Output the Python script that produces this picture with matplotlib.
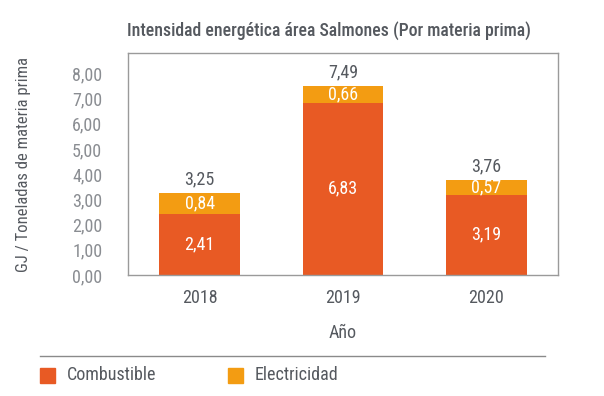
import numpy as np
import matplotlib.pyplot as plt
from matplotlib.patches import Rectangle
from matplotlib.lines import Line2D

years = ['2018', '2019', '2020']
combustible = [2.41, 6.83, 3.19]
electricidad = [0.84, 0.66, 0.57]
totales = [3.25, 7.49, 3.76]
yticks = [0, 1, 2, 3, 4, 5, 6, 7, 8]

c_comb = '#E85A24'
c_elec = '#F39C12'
grey_dark = '#55595f'
grey_light = '#8a8d92'
plt.rcParams['font.family'] = ['Roboto Condensed', 'Roboto', 'DejaVu Sans']
plt.rcParams['font.stretch'] = 'condensed'
fs = 13

def fmt(v):
    return f'{v:.2f}'.replace('.', ',')

fig = plt.figure(figsize=(6.04, 3.96), dpi=100)
W, H = 604, 396
ax = fig.add_axes([128 / W, 1 - 275 / H, (558 - 128) / W, (275 - 53) / H])

x = np.arange(len(years))
bw = 0.565
ax.bar(x, combustible, bw, color=c_comb, label='Combustible')
ax.bar(x, electricidad, bw, bottom=combustible, color=c_elec, label='Electricidad')

for i in range(len(years)):
    ax.text(x[i], combustible[i] / 2, fmt(combustible[i]), ha='center', va='center',
            color='white', fontsize=fs)
    ax.text(x[i], combustible[i] + electricidad[i] / 2, fmt(electricidad[i]), ha='center',
            va='center', color='white', fontsize=fs)
    ax.text(x[i], totales[i] + 0.2, fmt(totales[i]), ha='center', va='bottom',
            color=grey_dark, fontsize=fs)

ax.set_xlim(-0.5, 2.5)
ax.set_ylim(0, 8.8)
ax.set_yticks(yticks)
ax.set_yticklabels([fmt(v) for v in yticks])
ax.set_xticks(x)
ax.set_xticklabels(years)
ax.tick_params(axis='y', length=0, pad=18.5, labelsize=fs, labelcolor=grey_light)
ax.tick_params(axis='x', length=0, pad=10, labelsize=fs, labelcolor=grey_dark)
for s in ax.spines.values():
    s.set_color('#9a9a9a')
    s.set_linewidth(1)

ax.set_xlabel('Año', fontsize=fs, color=grey_dark, labelpad=12)
fig.text(24 / W, 1 - 165 / H, 'GJ / Toneladas de materia prima', rotation=90,
         ha='center', va='center', fontsize=12, color=grey_dark)
fig.text(329 / W, 1 - 31 / H, 'Intensidad energética área Salmones (Por materia prima)',
         ha='center', va='center', fontsize=12.8, color=grey_dark, fontweight='medium')

# legend below with separator line
fig.add_artist(Line2D([40 / W, 545 / W], [1 - 356 / H, 1 - 356 / H],
                      color='#8a8a8a', lw=1, transform=fig.transFigure))
for lx, col, lab in [(40, c_comb, 'Combustible'), (228, c_elec, 'Electricidad')]:
    fig.add_artist(Rectangle((lx / W, 1 - 383 / H), 15 / W, 15 / H, color=col,
                             transform=fig.transFigure))
    fig.text((lx + 27) / W, 1 - 375 / H, lab, ha='left', va='center', fontsize=fs,
             color=grey_dark)

fig.savefig('out.png', dpi=100)
